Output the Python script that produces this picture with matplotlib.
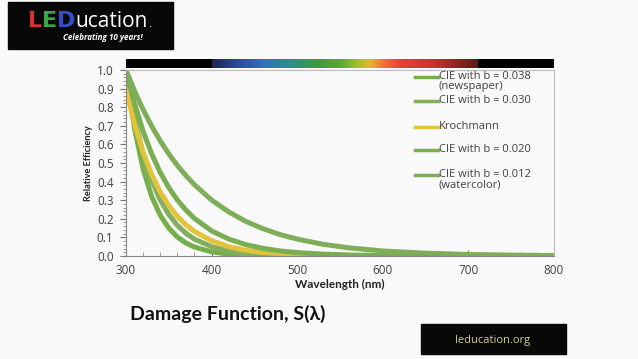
import matplotlib
matplotlib.use('Agg')
import matplotlib.pyplot as plt
import matplotlib.colors as colors
import numpy as np

# Damage functions (relative efficiency vs wavelength)
wavelength = [300, 310, 320, 330, 340, 350, 360, 370, 380, 400, 420, 440, 460,
              480, 500, 530, 560, 600, 650, 700, 750, 800]
cie_038 = [1.0, 0.684, 0.468, 0.320, 0.219, 0.150, 0.102, 0.070, 0.048, 0.022, 0.010,
           0.005, 0.002, 0.001, 0.0005, 0.0, 0.0, 0.0, 0.0, 0.0, 0.0, 0.0]
cie_030 = [1.0, 0.741, 0.549, 0.407, 0.301, 0.223, 0.165, 0.122, 0.091, 0.050, 0.027,
           0.015, 0.008, 0.0045, 0.0025, 0.001, 0.0004, 0.0001, 0.0, 0.0, 0.0, 0.0]
krochmann = [0.90, 0.708, 0.557, 0.438, 0.344, 0.271, 0.213, 0.168, 0.132, 0.082, 0.050,
             0.031, 0.019, 0.012, 0.007, 0.004, 0.002, 0.001, 0.0, 0.0, 0.0, 0.0]
cie_020 = [1.0, 0.819, 0.670, 0.549, 0.449, 0.368, 0.301, 0.247, 0.202, 0.135, 0.091,
           0.061, 0.041, 0.027, 0.018, 0.010, 0.0055, 0.0025, 0.0009, 0.0003, 0.0001, 0.0]
cie_012 = [1.0, 0.887, 0.787, 0.698, 0.619, 0.549, 0.487, 0.432, 0.383, 0.301, 0.237,
           0.186, 0.147, 0.115, 0.091, 0.063, 0.044, 0.027, 0.015, 0.008, 0.0045, 0.0025]

labels = ['CIE with b = 0.038\n(newspaper)', 'CIE with b = 0.030', 'Krochmann',
          'CIE with b = 0.020', 'CIE with b = 0.012\n(watercolor)']
line_colors = ['#76b04a', '#84ad62', '#e2c43a', '#7aae52', '#7fae5a']
series = [cie_038, cie_030, krochmann, cie_020, cie_012]

# spectrum strip colours (visible range)
spec_nm = [400, 430, 460, 490, 520, 550, 570, 585, 600, 620, 660, 710]
spec_col = ['#1c2552', '#2b4b9f', '#3172be', '#2a8f92', '#3a9a42', '#5da832',
            '#a3c12f', '#eab232', '#f07232', '#e54331', '#c53229', '#5e1818']

bg = '#f9f9f9'
txt = '#404040'
W, H = 638, 359
fig = plt.figure(figsize=(6.38, 3.59), dpi=100, facecolor=bg)

ax = fig.add_axes([0.1975, 0.287, 0.6705, 0.518], facecolor=bg)
for vals, col in zip(series, line_colors):
    ax.plot(wavelength, vals, color=col, lw=3.6, solid_capstyle='round')

ax.set_xlim(300, 800)
ax.set_ylim(0, 1.0)
ax.set_xticks(np.arange(300, 801, 100))
ax.set_xticks(np.arange(300, 801, 20), minor=True)
ax.set_yticks(np.arange(0, 1.01, 0.1))
ax.set_yticks(np.arange(0, 1.001, 0.02), minor=True)
ax.set_yticklabels([f'{v:.1f}' for v in np.arange(0, 1.01, 0.1)])
ax.tick_params(axis='both', which='major', labelsize=8.5, colors='#777777',
               labelcolor=txt, length=4, width=0.8)
ax.tick_params(axis='y', which='major', pad=5)
ax.tick_params(axis='y', which='minor', length=2, width=0.6, colors='#888888')
ax.tick_params(axis='x', which='minor', direction='in', length=3, width=0.6, colors='#888888')
ax.tick_params(axis='x', which='major', direction='in', length=4, pad=6)
for t in ax.get_xticklabels() + ax.get_yticklabels():
    t.set_family(['Open Sans', 'DejaVu Sans'])
for s in ['left', 'bottom']:
    ax.spines[s].set_color('#888888')
    ax.spines[s].set_linewidth(0.8)
for s in ['top', 'right']:
    ax.spines[s].set_color('#bbbbbb')
    ax.spines[s].set_linewidth(0.8)

ax.set_xlabel('Wavelength (nm)', fontsize=8.5, fontweight='bold', color='#222222',
              family=['Lato', 'DejaVu Sans'], labelpad=1)
ax.set_ylabel('Relative Efficiency', fontsize=6.6, fontweight='bold', color='#222222',
              family=['Lato', 'DejaVu Sans'], labelpad=3)

# legend drawn by hand so the key lines sit on the first text line
leg_rows = [77, 101, 127, 150, 175]
for py, lab, col in zip(leg_rows, labels, line_colors):
    ya = (256 - py) / 186
    ax.plot([(415 - 126) / 428, (438 - 126) / 428], [ya, ya], color=col, lw=2.5,
            transform=ax.transAxes, clip_on=False)
    ax.text((439 - 126) / 428, ya + 6 / 186, lab, transform=ax.transAxes,
            fontsize=8, color=txt, va='top', ha='left', linespacing=0.92,
            family=['Open Sans', 'DejaVu Sans'])

# spectrum strip above the plot
axb = fig.add_axes([0.1975, 0.811, 0.6705, 0.025])
axb.axvspan(300, 800, color='black', zorder=1)
pos = [(n - spec_nm[0]) / (spec_nm[-1] - spec_nm[0]) for n in spec_nm]
cmap = colors.LinearSegmentedColormap.from_list('spec', list(zip(pos, spec_col)))
axb.imshow(np.linspace(0, 1, 256)[None, :], cmap=cmap, aspect='auto',
           extent=[spec_nm[0], spec_nm[-1], 0, 1], zorder=2)
axb.set_xlim(300, 800)
axb.set_ylim(0, 1)
axb.axis('off')

# LEDucation logo top-left
fig.patches.append(plt.Rectangle((8 / W, 1 - 49 / H), 165 / W, 47 / H,
                                 transform=fig.transFigure, color='#080808', zorder=0))
logo_y = 1 - 27 / H
x0 = 28 / W
fig.canvas.draw()
rend = fig.canvas.get_renderer()
for ch, c in zip('LED', ['#d8302a', '#3aa84a', '#3050c8']):
    t = fig.text(x0, logo_y, ch, color=c, fontsize=16, fontweight='bold',
                 family=['DejaVu Sans'], va='baseline')
    x0 = t.get_window_extent(rend).x1 / fig.bbox.width
t = fig.text(x0, logo_y, 'ucation', color='white', fontsize=15,
             family=['Open Sans', 'DejaVu Sans'], va='baseline')
x1 = t.get_window_extent(rend).x1 / fig.bbox.width
fig.text(x1 + 1 / W, logo_y, '.', color='white', fontsize=7, va='baseline')
fig.text(103 / W, 1 - 37 / H, 'Celebrating 10 years!', color='white', fontsize=5.8,
         fontweight='bold', style='italic', ha='center', va='center',
         family=['Open Sans', 'DejaVu Sans'])

# title
fig.text(130 / W, 1 - 314 / H, 'Damage Function, S(λ)', fontsize=14,
         fontweight='bold', color='#111111', va='center',
         family=['Lato', 'DejaVu Sans'])

# leducation.org logo bottom-right
fig.patches.append(plt.Rectangle((421 / W, 1 - 354 / H), 145 / W, 30 / H,
                                 transform=fig.transFigure, color='#080808', zorder=0))
fig.text(493 / W, 1 - 340 / H, 'leducation.org', color='#cfcf98', fontsize=8,
         ha='center', va='center', family=['Open Sans', 'DejaVu Sans'])

fig.savefig('out.png', dpi=100, facecolor=bg)
